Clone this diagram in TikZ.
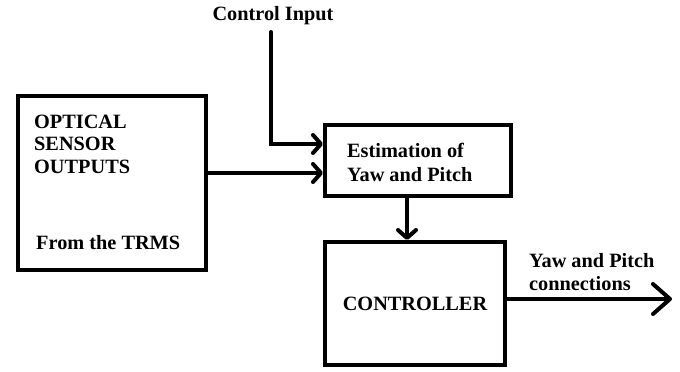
\documentclass[tikz,border=0pt]{standalone}
\usepackage{fontspec}
\setmainfont{Liberation Serif}
\usetikzlibrary{arrows.meta, positioning}

\tikzset{
  blockbox/.style={draw, line width=4pt, inner sep=0pt, font=\fontsize{20.3}{23}\selectfont\bfseries},
  lbl/.style={font=\fontsize{20.3}{23}\selectfont\bfseries, inner sep=0pt, anchor=base west},
  flow/.style={line width=4pt, line cap=round, -{Straight Barb[round, length=8pt, width=18pt]}},
  bigflow/.style={line width=4pt, line cap=round, -{Straight Barb[round, length=17pt, width=30pt]}},
}

\begin{document}
\begin{tikzpicture}[x=1pt, y=-1pt]
  \useasboundingbox (0,0) rectangle (680,372);
  % blocks
  \node[blockbox, minimum width=188pt, minimum height=174pt] (sensor) at (112,183) {};
  \node[blockbox, minimum width=186pt, minimum height=71pt] (est) at (418,160.5) {};
  \node[blockbox, minimum width=180pt, minimum height=123pt] (ctrl) at (415,303.5) {CONTROLLER};
  % texts
  \node[lbl] (optical) at (34,128) {OPTICAL};
  \node[lbl] (sensortxt) at (34,150) {SENSOR};
  \node[lbl] (outputs) at (34,173) {OUTPUTS};
  \node[lbl] (trms) at (36,249) {From the TRMS};
  \node[lbl] (esttxt) at (347,157) {Estimation of};
  \node[lbl] (yawtxt) at (347,181) {Yaw and Pitch};
  \node[lbl, anchor=base] (cinlbl) at (273,20) {Control Input};
  \node[lbl] (yawout1) at (529,267) {Yaw and Pitch};
  \node[lbl] (yawout2) at (529,290) {connections};
  % connectors
  \coordinate (cin) at (271,32);
  \coordinate (yawend) at (672,299);
  \draw[flow] (cin) |- ([yshift=16.5pt]est.west);
  \draw[flow] ([yshift=10pt]sensor.east) -- ([yshift=10pt]sensor.east -| est.west);
  \draw[flow] ([xshift=-11pt]est.south) -- ([xshift=-11pt]est.south |- ctrl.north);
  \draw[bigflow] (ctrl.east |- yawend) -- (yawend);
\end{tikzpicture}
\end{document}
